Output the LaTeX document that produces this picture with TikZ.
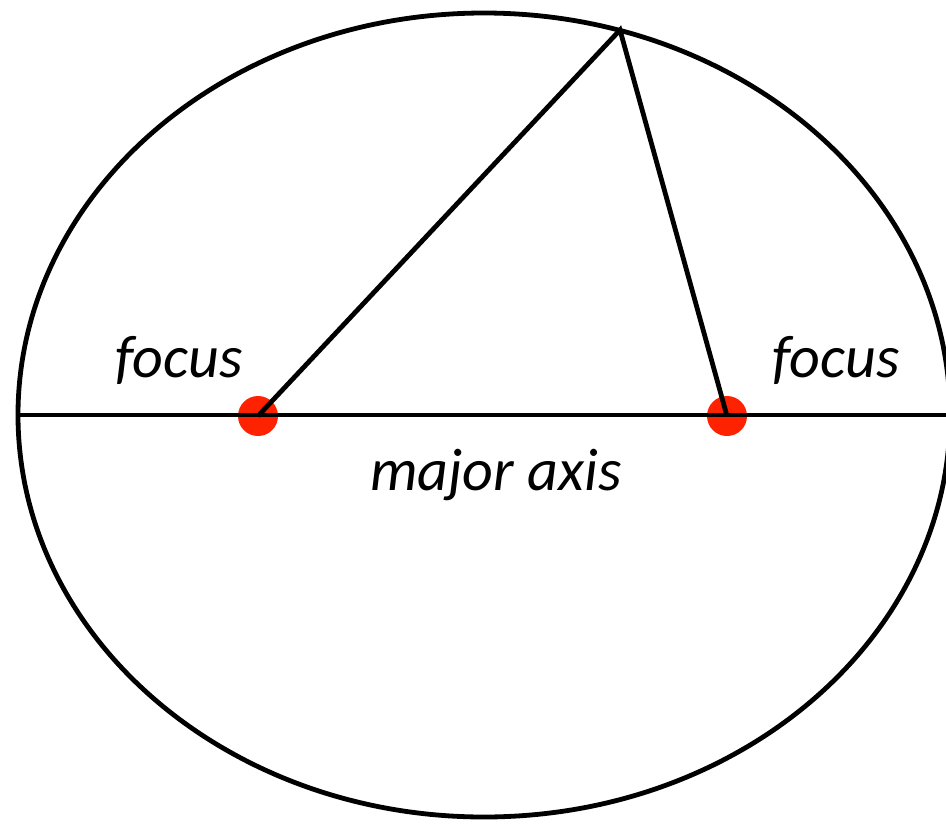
\documentclass[tikz,border=0pt]{standalone}
\usepackage{fontspec}
\setmainfont{Carlito}
\begin{document}
\begin{tikzpicture}[x=1pt,y=-1pt,
  curve/.style={line width=4.8pt,black},
  focusdot/.style={circle,fill={rgb,255:red,255;green,34;blue,0},inner sep=0pt,minimum size=40pt},
  lbl/.style={font=\fontsize{60}{62}\selectfont\itshape,anchor=base,inner sep=0pt}]
\useasboundingbox (0,0) rectangle (946,823);
\coordinate (C) at (484,415);
\coordinate (L) at (18,415);
\coordinate (R) at (950,415);
\node[focusdot] (F1) at (258,416) {};
\node[focusdot] (F2) at (727,416) {};
\coordinate (P) at (620,30);
\draw[curve] (C) ellipse [x radius=466, y radius=402];
\draw[curve] (L) -- (R);
\draw[curve,line join=miter] (F1.center) -- (P) -- (F2.center);
\node[lbl] (t1) at (179,377) {focus};
\node[lbl] (t2) at (836,377) {focus};
\node[lbl] (t3) at (496,490) {major axis};
\end{tikzpicture}
\end{document}
